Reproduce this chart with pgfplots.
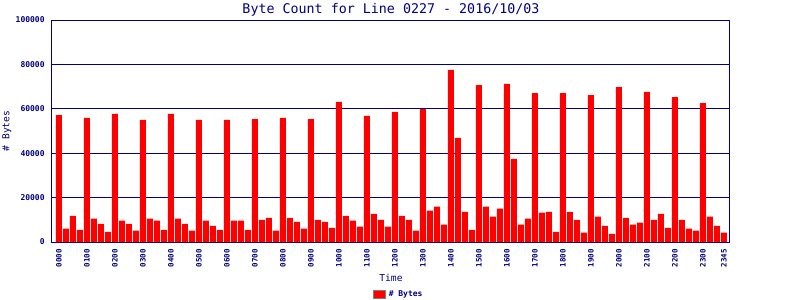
\documentclass[border=0pt]{standalone}
\usepackage{fontspec}
\setmainfont{DejaVu Sans Mono}
\setmonofont{DejaVu Sans Mono}
\usepackage{pgfplots}
\usepackage{pgfplotstable}
\pgfplotsset{compat=1.18}
\definecolor{navy}{HTML}{000080}
\definecolor{barred}{HTML}{FF0000}
\pgfplotstableread{
x y
0 57200
1 6000
2 11800
3 5500
4 55900
5 10500
6 8200
7 4600
8 57700
9 9600
10 8200
11 5100
12 55000
13 10500
14 9600
15 5500
16 57700
17 10500
18 8200
19 5100
20 55000
21 9600
22 7300
23 5500
24 55000
25 9600
26 9600
27 5500
28 55400
29 10000
30 10900
31 5100
32 55900
33 10900
34 9100
35 6000
36 55400
37 10000
38 9100
39 6400
40 63100
41 11800
42 9600
43 6900
44 56800
45 12700
46 10000
47 6900
48 58600
49 11800
50 10000
51 5100
52 59900
53 14100
54 15900
55 7800
56 77500
57 46900
58 13600
59 5500
60 70700
61 15900
62 11400
63 15000
64 71200
65 37500
66 7800
67 10500
68 67100
69 13200
70 13600
71 4600
72 67100
73 13600
74 10000
75 4200
76 66200
77 11400
78 7300
79 3700
80 69800
81 10900
82 7800
83 8700
84 67600
85 10000
86 12700
87 6400
88 65300
89 10000
90 6000
91 5100
92 62600
93 11400
94 7300
95 4200
}\bytes
\begin{document}
\begin{tikzpicture}
\useasboundingbox (-39pt,-43.5pt) rectangle (561pt,181.5pt);
\begin{axis}[name=ax, at={(0pt,0pt)}, anchor=south west, scale only axis, width=508.5pt, height=166.5pt,
  ybar, bar width=4.5pt, bar shift=0pt,
  xmin=-1, xmax=95.857, ymin=0, ymax=100000,
  axis line style={navy, line width=0.75pt},
  ytick={0,20000,40000,60000,80000,100000},
  ymajorgrids, major grid style={navy, line width=0.75pt},
  major tick length=0pt,
  scaled y ticks=false,
  /pgf/number format/assume math mode=true,
  yticklabel style={font=\fontsize{6}{7}\selectfont\bfseries, text=navy, /pgf/number format/fixed, /pgf/number format/1000 sep={}, xshift=-2pt},
  xtick={0,4,8,12,16,20,24,28,32,36,40,44,48,52,56,60,64,68,72,76,80,84,88,92,95},
  xticklabels={0000,0100,0200,0300,0400,0500,0600,0700,0800,0900,1000,1100,1200,1300,1400,1500,1600,1700,1800,1900,2000,2100,2200,2300,2345},
  xticklabel style={rotate=90, anchor=east, font=\fontsize{5.6}{7}\selectfont\bfseries, text=navy, xshift=-2pt},
  every axis title shift=0pt,
  title={Byte Count for Line 0227 - 2016/10/03},
  title style={at={(0.5,1.045)}, anchor=center, yshift=0pt, font=\fontsize{10}{12}\selectfont, text=navy},
  xlabel={Time},
  xlabel style={at={(0.5,-0.161)}, anchor=center, font=\fontsize{7.2}{9}\selectfont, text=navy},
  ylabel={\# Bytes},
  ylabel style={at={(-0.0664,0.5)}, anchor=center, font=\fontsize{7.2}{9}\selectfont, text=navy},
  legend style={at={(0.512,-0.2387)}, anchor=center, draw=none, fill=none, font=\fontsize{6}{7}\selectfont\bfseries, text=navy, inner sep=0pt},
  legend image code/.code={\draw[fill=barred, draw=gray, line width=0.75pt] (0pt,-3pt) rectangle (9pt,3pt);},
]
\addplot[fill=barred, draw=none] table[x=x, y=y] {\bytes};
\addlegendentry{\# Bytes}
\end{axis}
\end{tikzpicture}
\end{document}
